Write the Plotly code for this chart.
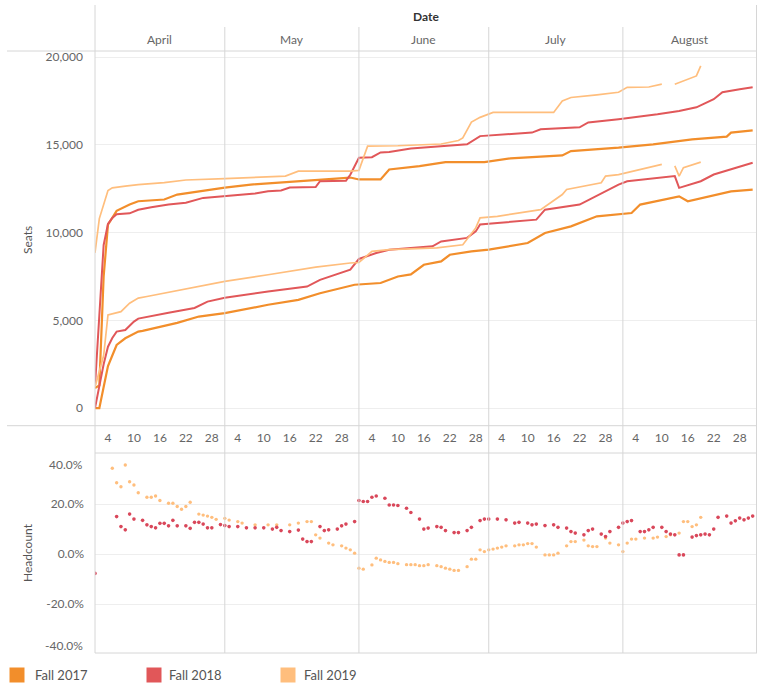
import plotly.graph_objects as go
import pandas as pd

# ---------------- data (day index = days since April 1) ----------------
years = ["Fall 2017", "Fall 2018", "Fall 2019"]
colors = ["#F28E2B", "#E15759", "#FFBE7D"]
month_names = ["April", "May", "June", "July", "August"]
month_numbers = [4, 5, 6, 7, 8]
tick_days_of_month = [4, 10, 16, 22, 28]
seat_ticks = [0, 5000, 10000, 15000, 20000]
pct_ticks = [-20, 0, 20]

# upper lines (seats)
seats_2017_days = [0, 1, 2, 3, 5, 8, 10, 16, 19, 24, 30, 36, 43, 51, 59, 61, 66, 68, 75, 81, 90, 96, 108, 110, 121, 129, 138, 146, 147, 152]
seats_2017 = [1150, 1300, 7500, 10460, 11240, 11600, 11790, 11890, 12170, 12360, 12570, 12740, 12870, 13030, 13140, 13030, 13030, 13600, 13790, 14020, 14020, 14230, 14400, 14650, 14840, 15030, 15310, 15470, 15700, 15830]

seats_2018_days = [0, 1, 2, 3, 4, 5, 8, 10, 13, 17, 21, 25, 30, 37, 40, 43, 45, 51, 52, 58, 59, 60, 61, 64, 66, 68, 73, 86, 89, 101, 103, 112, 114, 121, 125, 130, 135, 139, 143, 145, 149, 152]
seats_2018 = [1250, 5000, 9300, 10500, 10840, 11050, 11100, 11300, 11450, 11600, 11700, 11980, 12070, 12230, 12360, 12400, 12570, 12600, 12930, 12950, 13300, 13800, 14270, 14300, 14570, 14600, 14800, 15030, 15500, 15700, 15890, 16000, 16280, 16460, 16570, 16740, 16930, 17140, 17600, 18000, 18170, 18290]

seats_2019_days = [0, 1, 3, 4, 7, 10, 16, 21, 30, 40, 44, 47, 59, 61, 62, 63, 70, 75, 80, 84, 85, 87, 89, 92, 106, 108, 110, 116, 121, 123, 128, 131, 132, 134, 138, 139, 140]
seats_2019 = [8850, 10800, 12400, 12550, 12650, 12740, 12850, 13000, 13080, 13150, 13220, 13500, 13500, 13550, 14200, 14930, 14950, 15000, 15050, 15250, 15400, 16300, 16570, 16850, 16850, 17500, 17700, 17850, 18000, 18280, 18300, 18460, None, 18460, 18800, 18930, 19500]

# lower lines (headcount)
heads_2017_days = [0, 1, 2, 3, 4, 5, 7, 10, 11, 19, 24, 30, 40, 47, 52, 60, 66, 70, 73, 76, 80, 82, 87, 91, 100, 104, 110, 116, 124, 126, 135, 137, 147, 152]
heads_2017 = [0, 0, 1200, 2400, 3000, 3600, 3980, 4360, 4400, 4860, 5220, 5410, 5890, 6170, 6550, 7030, 7130, 7500, 7620, 8170, 8360, 8740, 8930, 9030, 9410, 9980, 10360, 10930, 11120, 11600, 12070, 11790, 12350, 12450]

heads_2018_days = [0, 1, 2, 3, 4, 5, 7, 9, 10, 17, 23, 26, 30, 40, 49, 52, 59, 61, 65, 68, 78, 80, 86, 88, 89, 93, 102, 104, 112, 121, 123, 134, 135, 140, 143, 152]
heads_2018 = [0, 1300, 2500, 3500, 4000, 4360, 4450, 4930, 5100, 5430, 5710, 6070, 6290, 6650, 6930, 7310, 7890, 8500, 8840, 9030, 9220, 9500, 9700, 10070, 10460, 10550, 10740, 11310, 11600, 12740, 12930, 13220, 12550, 12930, 13310, 13980]

heads_2019_days = [0, 2, 3, 6, 8, 10, 12, 20, 30, 40, 51, 59, 61, 64, 68, 79, 85, 88, 89, 93, 103, 108, 109, 117, 118, 121, 131, 132, 134, 135, 136, 140]
heads_2019 = [1200, 3000, 5310, 5500, 5980, 6270, 6360, 6740, 7220, 7600, 8040, 8270, 8300, 8930, 9030, 9130, 9310, 10270, 10840, 10930, 11310, 12170, 12460, 12840, 13220, 13310, 13890, None, 13800, 13220, 13700, 14020]

# headcount % change dots
pct_2018_days = [0, 5, 6, 7, 8, 9, 11, 12, 13, 14, 15, 16, 17, 18, 19, 21, 22, 23, 24, 25, 26, 27, 29, 30, 31, 33, 35, 37, 39, 41, 42, 43, 45, 47, 48, 49, 50, 52, 53, 54, 56, 57, 58, 60,
                 61, 62, 63, 64, 65, 67, 68, 69, 70, 72, 73, 75, 76, 77, 79, 80, 81, 83, 84, 86, 87, 89, 90,
                 91, 93, 95, 97, 98, 100, 101, 102, 104, 106, 107, 109, 110, 111, 113, 114, 115, 117, 118, 119, 121,
                 122, 123, 124, 126, 127, 128, 129, 131, 132, 133, 134, 135, 136, 138, 139, 140, 141, 142, 143, 144, 146, 147, 148, 149, 150, 151, 152]
pct_2018 = [-7.7, 15.0, 11.0, 9.7, 16.0, 14.0, 13.5, 11.7, 11.0, 10.5, 12.3, 12.3, 11.3, 13.5, 11.3, 11.3, 10.3, 12.7, 12.7, 12.0, 10.5, 10.5, 11.8, 11.4, 11.0, 11.0, 10.5, 10.5, 10.5, 10.0, 10.7, 9.4, 9.0, 9.6, 6.0, 5.0, 5.0, 11.0, 9.4, 9.7, 10.0, 11.3, 12.0, 13.0,
            21.4, 21.0, 21.0, 22.7, 23.2, 22.3, 19.6, 19.6, 19.4, 18.3, 16.6, 14.0, 10.0, 10.4, 11.0, 10.7, 9.4, 8.6, 8.6, 9.4, 10.7, 13.4, 14.0,
            14.0, 14.0, 13.7, 12.4, 12.7, 12.4, 11.7, 12.0, 11.4, 11.7, 10.7, 10.4, 9.0, 8.4, 7.7, 9.4, 10.0, 8.0, 7.0, 9.0, 10.7,
            12.4, 13.0, 13.4, 9.0, 9.0, 9.7, 10.7, 10.7, 9.0, 8.0, 7.7, -0.3, -0.3, 6.8, 7.4, 7.7, 8.0, 7.7, 10.0, 14.7, 15.2, 12.4, 13.3, 14.4, 13.7, 14.4, 15.2]

pct_2019_days = [4, 5, 6, 7, 8, 9, 10, 12, 13, 14, 15, 17, 18, 19, 20, 21, 22, 24, 25, 26, 27, 28, 30, 31, 33, 34, 37, 40, 42, 45, 47, 49, 50, 51, 52, 54, 55, 57, 58, 59, 60,
                 61, 62, 64, 65, 66, 67, 68, 69, 70, 72, 73, 74, 75, 76, 77, 79, 80, 81, 82, 83, 84, 86, 87, 88, 89, 90,
                 91, 92, 93, 94, 95, 97, 98, 99, 100, 101, 102, 104, 105, 106, 107, 109, 110, 111, 113, 114, 115, 116, 118, 119, 121,
                 122, 123, 124, 125, 127, 129, 130, 132, 133, 135, 136, 137, 138, 139, 140]
pct_2019 = [34.3, 28.5, 26.9, 35.6, 28.9, 27.6, 24.5, 22.7, 22.7, 23.2, 21.4, 20.3, 20.3, 19.0, 17.9, 19.0, 20.7, 16.0, 15.6, 15.2, 14.7, 13.9, 14.3, 13.6, 13.0, 12.4, 11.7, 11.7, 11.7, 11.7, 12.4, 13.0, 13.0, 7.7, 6.4, 4.4, 3.7, 3.3, 2.4, 1.7, 0.4,
            -5.6, -6.0, -4.3, -1.6, -2.3, -2.9, -3.3, -3.3, -3.8, -4.2, -4.2, -4.2, -4.6, -4.6, -4.2, -4.6, -5.0, -5.6, -6.0, -6.5, -6.5, -5.0, -2.0, -2.0, 1.7, 1.0,
            1.7, 2.0, 2.4, 2.8, 3.3, 3.3, 3.7, 3.7, 4.2, 4.2, 2.8, -0.3, -0.3, -0.3, 0.4, 3.3, 5.0, 5.0, 5.6, 3.3, 3.0, 3.0, 6.4, 4.4, 3.7,
            1.0, 4.4, 6.0, 6.0, 6.4, 6.4, 6.8, 7.0, 7.7, 8.4, 13.0, 13.0, 11.0, 11.7, 14.7]

# ---------------- build ----------------
BASE = pd.Timestamp("2019-04-01")


def to_dates(days):
    return [BASE + pd.Timedelta(days=d) for d in days]


W, H = 762, 687
ML, MR, MT, MB = 95, 5, 51, 34
PW, PH = W - ML - MR, H - MT - MB


def px_x(px):
    return (px - ML) / PW


def px_y(py):
    return (H - MB - py) / PH


fig = go.Figure()

seat_series = [(seats_2017_days, seats_2017), (seats_2018_days, seats_2018), (seats_2019_days, seats_2019)]
head_series = [(heads_2017_days, heads_2017), (heads_2018_days, heads_2018), (heads_2019_days, heads_2019)]
widths = [2.2, 2.0, 1.7]
for i in range(3):
    d, v = seat_series[i]
    fig.add_trace(go.Scatter(x=to_dates(d), y=v, mode="lines", name=years[i],
                             line=dict(color=colors[i], width=widths[i]),
                             connectgaps=False, xaxis="x", yaxis="y"))
    d, v = head_series[i]
    fig.add_trace(go.Scatter(x=to_dates(d), y=v, mode="lines", name=years[i],
                             line=dict(color=colors[i], width=widths[i]),
                             connectgaps=False, xaxis="x", yaxis="y"))

fig.add_trace(go.Scatter(x=to_dates(pct_2019_days), y=pct_2019, mode="markers", name=years[2],
                         marker=dict(color=colors[2], size=3.4), xaxis="x2", yaxis="y2"))
fig.add_trace(go.Scatter(x=to_dates(pct_2018_days), y=pct_2018, mode="markers", name=years[1],
                         marker=dict(color="#D9475A", size=3.6), xaxis="x2", yaxis="y2"))

tickvals = [pd.Timestamp(2019, m, d) for m in month_numbers for d in tick_days_of_month]
ticktext = [str(d) for m in month_numbers for d in tick_days_of_month]
xrange = [pd.Timestamp(2019, 4, 1), pd.Timestamp(2019, 9, 1)]

top_dom = [px_y(425.7), 1]
bot_dom = [0, px_y(453)]

fig.update_layout(
    width=W, height=H,
    margin=dict(l=ML, r=MR, t=MT, b=MB),
    paper_bgcolor="white", plot_bgcolor="white", showlegend=False,
    font=dict(family="Lato, sans-serif", size=12, color="#666666"),
    xaxis=dict(domain=[0, 1], anchor="y", type="date", range=xrange,
               tickvals=tickvals, ticktext=ticktext, showgrid=False, zeroline=False,
               showline=False, ticks="", ticklabelstandoff=3,
               tickfont=dict(size=12, color="#666666")),
    xaxis2=dict(domain=[0, 1], anchor="y2", type="date", range=xrange, matches="x",
                showticklabels=False, showgrid=False, zeroline=False, showline=False, ticks=""),
    yaxis=dict(domain=top_dom, range=[-1000, 20350], tickvals=seat_ticks,
               ticktext=[f"{v:,}" for v in seat_ticks], gridcolor="#eeeeee", gridwidth=1,
               zeroline=False, showline=False, ticks="", ticklabelstandoff=11,
               tickfont=dict(size=12, color="#666666")),
    yaxis2=dict(domain=bot_dom, range=[-39.5, 40.4], tickvals=pct_ticks,
                ticktext=[f"{v:.1f}%" for v in pct_ticks], gridcolor="#eeeeee", gridwidth=1,
                zeroline=False, showline=False, ticks="", ticklabelstandoff=10,
                tickfont=dict(size=12, color="#666666")),
)

line_col = "#d6d6d6"
shapes = []


def hline(py, x0px, x1px):
    shapes.append(dict(type="line", xref="paper", yref="paper", x0=px_x(x0px), x1=px_x(x1px),
                       y0=px_y(py), y1=px_y(py), line=dict(color=line_col, width=1)))


def vline_px(px, y0px, y1px):
    shapes.append(dict(type="line", xref="paper", yref="paper", x0=px_x(px), x1=px_x(px),
                       y0=px_y(y0px), y1=px_y(y1px), line=dict(color=line_col, width=1)))


hline(51, 7, 757)
hline(425.7, 7, 757)
hline(453, 95, 757)
hline(653, 95, 757)
vline_px(95, 5, 653)
vline_px(756.5, 5, 653)
for m in month_numbers[1:]:
    shapes.append(dict(type="line", xref="x", yref="paper", x0=pd.Timestamp(2019, m, 1),
                       x1=pd.Timestamp(2019, m, 1), y0=px_y(653), y1=px_y(27),
                       line=dict(color=line_col, width=1)))

# legend squares
legend_sq_x = [17, 154, 288]
legend_txt_x = [33, 167, 302]
for i in range(3):
    shapes.append(dict(type="rect", xref="paper", yref="paper",
                       x0=px_x(legend_sq_x[i] - 7.5), x1=px_x(legend_sq_x[i] + 7.5),
                       y0=px_y(667.5), y1=px_y(682.5), fillcolor=colors[i],
                       line=dict(width=0)))

annotations = []


def note(text, x, y, xref="paper", xanchor="center", size=12, color="#666666", angle=0):
    annotations.append(dict(text=text, xref=xref, yref="paper", x=x, y=y, xanchor=xanchor,
                            yanchor="middle", textangle=angle, showarrow=False,
                            font=dict(size=size, color=color)))


note("<b>Date</b>", px_x(426), px_y(17), color="#333333")
for i, m in enumerate(month_numbers):
    start = pd.Timestamp(2019, m, 1)
    end = pd.Timestamp(2019, m + 1, 1)
    note(month_names[i], start + (end - start) / 2, px_y(40), xref="x")
note("Seats", px_x(27), px_y(240), color="#555555", angle=-90)
note("Headcount", px_x(27), px_y(553), color="#555555", angle=-90)
note("40.0%", px_x(85), px_y(464), xanchor="right")
note("-40.0%", px_x(85), px_y(645), xanchor="right")
for i in range(3):
    note(years[i], px_x(legend_txt_x[i]), px_y(675), xanchor="left", size=13, color="#555555")

fig.update_layout(shapes=shapes, annotations=annotations)
fig.write_html("out.html", config={"displayModeBar": False},
               post_script="document.body.style.margin='0px';")
